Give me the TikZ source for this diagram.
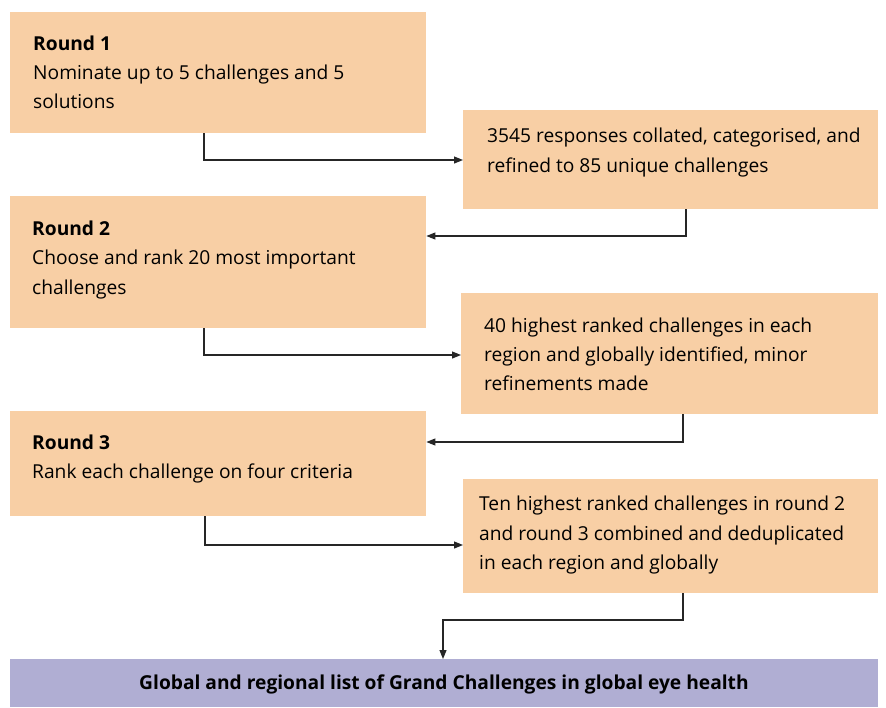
\documentclass[tikz,border=0pt]{standalone}
\usepackage{fontspec}
\setmainfont{Open Sans}
\usetikzlibrary{arrows.meta}
\definecolor{boxor}{HTML}{F8CFA5}
\definecolor{boxpu}{HTML}{B0AED3}
\begin{document}
\begin{tikzpicture}[x=1pt,y=-1pt,
  obox/.style={fill=boxor,draw=none,anchor=north west,inner sep=0},
  pbox/.style={fill=boxpu,draw=none,anchor=north west,inner sep=0},
  txt/.style={anchor=base west,inner sep=0,font=\fontsize{19.2}{22}\selectfont},
  btxt/.style={anchor=base west,inner sep=0,font=\fontsize{19.2}{22}\selectfont\bfseries},
  conn/.style={draw=black!85,line width=1.1pt,-{Triangle[length=9pt,width=7pt]}}]
\useasboundingbox (0,0) rectangle (886,707);
\fill[white] (0,0) rectangle (886,707);
% boxes
\node[obox,minimum width=416pt,minimum height=121pt] (r1) at (10,12) {};
\node[obox,minimum width=415pt,minimum height=99pt] (b1) at (463,110) {};
\node[obox,minimum width=416pt,minimum height=132pt] (r2) at (10,196) {};
\node[obox,minimum width=417pt,minimum height=121pt] (b2) at (461,293) {};
\node[obox,minimum width=416pt,minimum height=105pt] (r3) at (10,411) {};
\node[obox,minimum width=415pt,minimum height=114pt] (b3) at (463,479) {};
\node[pbox,minimum width=868pt,minimum height=48pt] (fin) at (10,659) {};
% texts
\node[btxt] (t1a) at (33,50) {Round 1};
\node[txt] (t1b) at (33,79) {Nominate up to 5 challenges and 5};
\node[txt] (t1c) at (33,108) {solutions};
\node[txt] (t2a) at (487,142) {3545 responses collated, categorised, and};
\node[txt] (t2b) at (487,172) {refined to 85 unique challenges};
\node[btxt] (t3a) at (32,235) {Round 2};
\node[txt] (t3b) at (32,264) {Choose and rank 20 most important};
\node[txt] (t3c) at (32,294) {challenges};
\node[txt] (t4a) at (484,332) {40 highest ranked challenges in each};
\node[txt] (t4b) at (484,361) {region and globally identified, minor};
\node[txt] (t4c) at (484,390) {refinements made};
\node[btxt] (t5a) at (32,449) {Round 3};
\node[txt] (t5b) at (32,478) {Rank each challenge on four criteria};
\node[txt] (t6a) at (479,510) {Ten highest ranked challenges in round 2};
\node[txt] (t6b) at (479,540) {and round 3 combined and deduplicated};
\node[txt] (t6c) at (479,569) {in each region and globally};
\node[anchor=center,inner sep=0,font=\fontsize{19.2}{22}\selectfont\bfseries] (tf) at (444,684) {Global and regional list of Grand Challenges in global eye health};
% connectors
\coordinate (c1) at (204,160);
\coordinate (c2) at (686,236);
\coordinate (c3) at (204,355);
\coordinate (c4) at (683,442);
\coordinate (c5) at (205,545);
\coordinate (c6a) at (683,620);
\coordinate (c6b) at (443,620);
\draw[conn] (r1.south west -| c1) -- (c1) -- (c1 -| b1.west);
\draw[conn] (b1.south west -| c2) -- (c2) -- (c2 -| r2.east);
\draw[conn] (r2.south west -| c3) -- (c3) -- (c3 -| b2.west);
\draw[conn] (b2.south west -| c4) -- (c4) -- (c4 -| r3.east);
\draw[conn] (r3.south west -| c5) -- (c5) -- (c5 -| b3.west);
\draw[conn] (b3.south west -| c6a) -- (c6a) -- (c6b) -- (c6b |- fin.north);
\end{tikzpicture}
\end{document}
